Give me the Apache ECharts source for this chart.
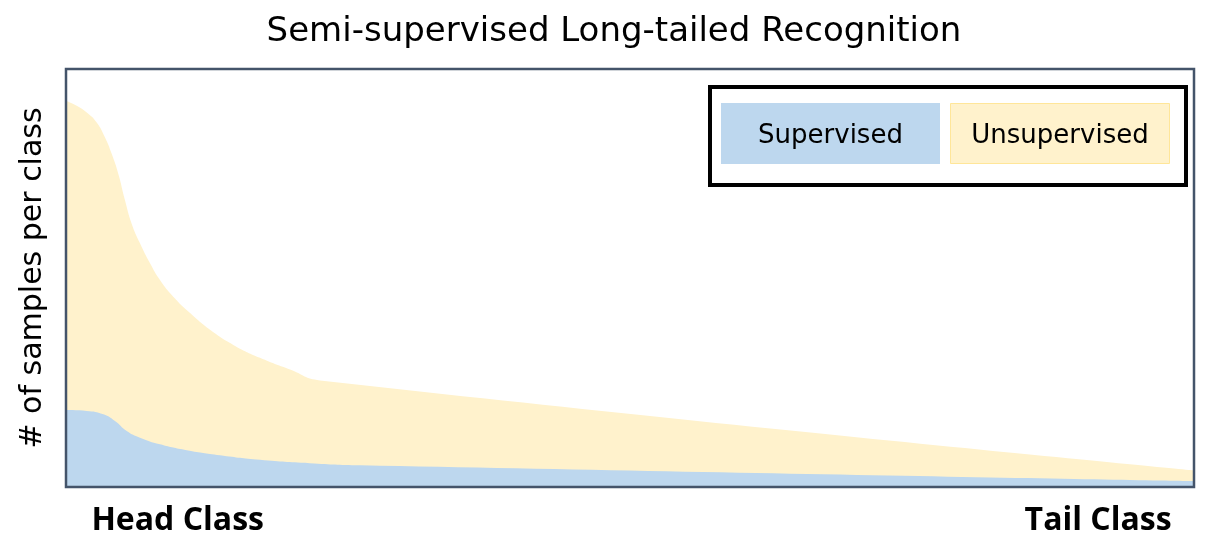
<!DOCTYPE html>
<html>
<head>
<meta charset="utf-8">
<script src="https://cdn.jsdelivr.net/npm/echarts@6/dist/echarts.min.js"></script>
<style>html,body{margin:0;padding:0;background:#fff}#c{width:1228px;height:559px}</style>
</head>
<body>
<div id="c"></div>
<script>
// Class position (0 = head, 100 = tail)
const classPos = [0, 0.95, 1.84, 2.72, 3.46, 4.05, 4.64, 5.23, 5.82, 6.56, 7.45, 8.33, 9.51, 11.0, 12.77, 14.83, 17.2, 19.86, 22.52, 100];
// total samples per class (supervised + unsupervised)
const totalSamples = [924, 912, 896, 872, 836, 797, 749, 686, 630, 583, 535, 495, 455, 416, 376, 340, 309, 281, 255, 40];
const supPos = [0, 1.84, 3.31, 4.34, 5.38, 6.56, 8.33, 10.7, 13.65, 17.2, 21.6, 26.1, 100];
const supervisedSamples = [184, 182, 174, 158, 134, 118, 102, 88, 76, 65, 57, 52, 14];
const tickValues = [9.9, 91.5];
const tickLabels = ['Head Class', 'Tail Class'];
const seriesNames = ['Supervised', 'Unsupervised'];

const chart = echarts.init(document.getElementById('c'), null, {renderer: 'canvas'});
const FONT = 'DejaVu Sans';
chart.setOption({
  animation: false,
  backgroundColor: '#ffffff',
  title: {
    text: 'Semi-supervised Long-tailed Recognition',
    left: 'center', top: 10,
    textStyle: {fontFamily: FONT, fontWeight: 'normal', fontSize: 34, color: '#000'}
  },
  grid: {left: 66, top: 69, right: 34, bottom: 72, show: true, borderColor: '#44546A', borderWidth: 2.5, backgroundColor: 'transparent', z: 10},
  xAxis: {
    type: 'value', min: 0, max: 100,
    axisLine: {show: false}, axisTick: {show: false}, splitLine: {show: false},
    axisLabel: {
      customValues: tickValues,
      formatter: function (v) { return tickLabels[tickValues.indexOf(v)]; },
      fontFamily: 'Open Sans', fontWeight: 'bold', fontSize: 32, color: '#000', margin: 18
    }
  },
  yAxis: {
    type: 'value', min: 0, max: 1000,
    axisLine: {show: false}, axisTick: {show: false}, splitLine: {show: false}, axisLabel: {show: false},
    name: '# of samples per class', nameLocation: 'middle', nameGap: 18, nameRotate: 90,
    nameTextStyle: {fontFamily: FONT, fontSize: 30, color: '#000'}
  },
  series: [
    {
      name: seriesNames[1], type: 'line', smooth: 0.5, showSymbol: false,
      lineStyle: {width: 0}, areaStyle: {color: '#FFF2CC', opacity: 1},
      data: classPos.map((x, i) => [x, totalSamples[i]]), z: 2
    },
    {
      name: seriesNames[0], type: 'line', smooth: 0.5, showSymbol: false,
      lineStyle: {width: 0}, areaStyle: {color: '#BDD7EE', opacity: 1},
      data: supPos.map((x, i) => [x, supervisedSamples[i]]), z: 3
    }
  ],
  graphic: [
    {type: 'rect', shape: {x: 710, y: 87, width: 476, height: 98}, style: {fill: '#fff', stroke: '#000', lineWidth: 4}, z: 100},
    {type: 'rect', shape: {x: 721, y: 103, width: 219, height: 61}, style: {fill: '#BDD7EE'}, z: 101},
    {type: 'rect', shape: {x: 950.5, y: 103.5, width: 219, height: 60}, style: {fill: '#FFF2CC', stroke: '#FFE699', lineWidth: 1}, z: 101},
    {type: 'text', x: 830.5, y: 136, style: {text: seriesNames[0], fontFamily: FONT, fontSize: 26, fill: '#000', align: 'center', verticalAlign: 'middle'}, z: 102},
    {type: 'text', x: 1060, y: 136, style: {text: seriesNames[1], fontFamily: FONT, fontSize: 26, fill: '#000', align: 'center', verticalAlign: 'middle'}, z: 102}
  ]
});
</script>
</body>
</html>
